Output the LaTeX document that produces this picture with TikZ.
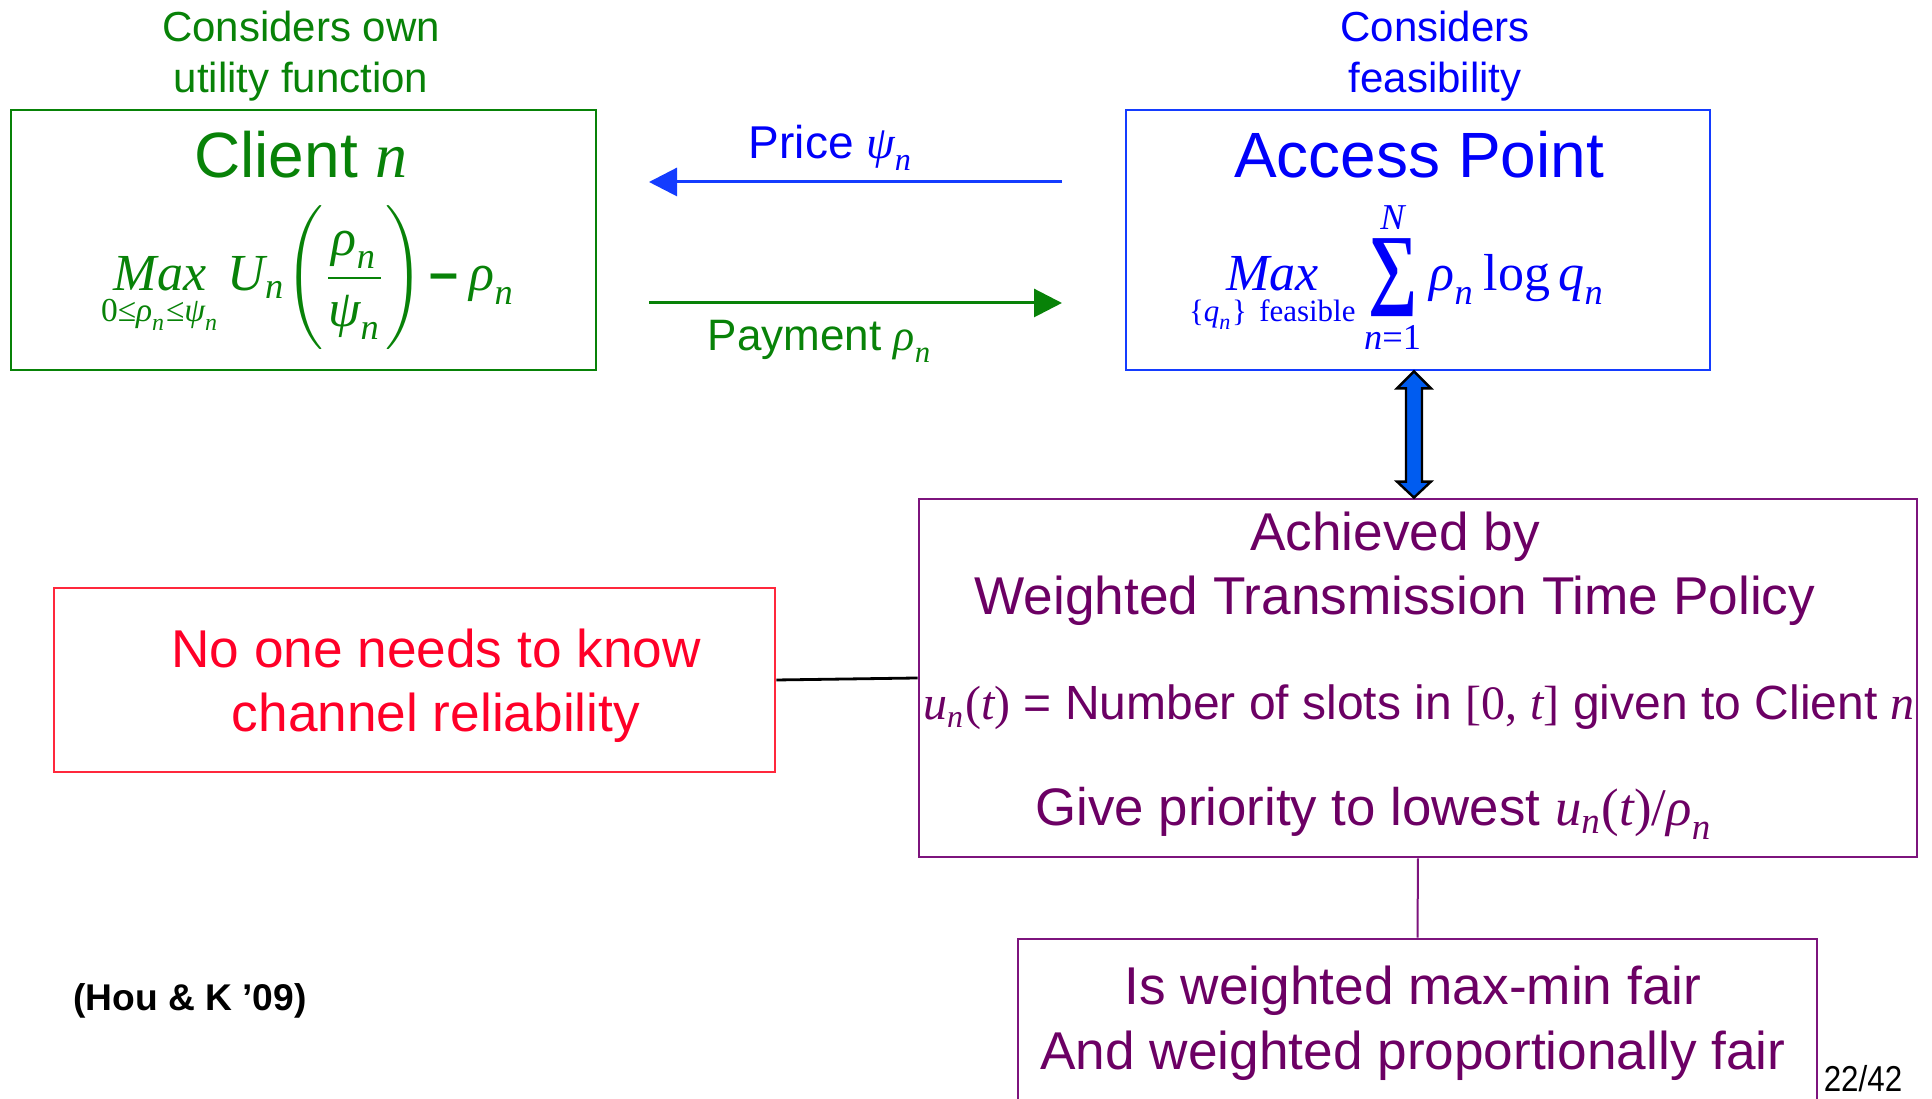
\documentclass[tikz,border=0pt]{standalone}
\usepackage{fix-cm}
\usepackage{amsmath}
\usepackage{fontspec}
\setmainfont{Liberation Sans}
\newfontfamily\tms{Liberation Serif}
\usetikzlibrary{fit,calc,arrows.meta}

% Times-like italic and upright pieces inside formulas
\newcommand\mi[1]{\text{\tms\itshape #1}}
\newcommand\mup[1]{\text{\tms\upshape #1}}
\newcommand\fs[1]{\fontsize{#1}{#1}\selectfont}
% heavy summation sign, centred on the math axis
\newcommand\bigsum{\mathop{\vcenter{\hbox{\resizebox*{12.3pt}{19.5pt}{\tms\bfseries ∑}}}}}

\definecolor{gtxt}{RGB}{8,130,8}
\definecolor{btxt}{RGB}{0,0,250}
\definecolor{bline}{RGB}{20,60,255}
\definecolor{ptxt}{RGB}{108,0,100}
\definecolor{pline}{RGB}{125,20,125}
\definecolor{rtxt}{RGB}{255,0,40}
\definecolor{rline}{RGB}{255,40,60}
\definecolor{afill}{RGB}{0,92,240}

\begin{document}
\begin{tikzpicture}[x=0.25pt,y=-0.25pt,
  box/.style={draw, line width=0.7pt, inner sep=0pt},
  lbl/.style={inner sep=0pt, anchor=base},
  flow/.style={line width=0.75pt, -{Triangle[length=7pt,width=7pt]}},
]
\useasboundingbox (0,0) rectangle (1932,1099);

% ---------- client side ----------
\node[lbl, text=gtxt, font=\fs{10.5}] (cown1) at (301,42) {Considers own};
\node[lbl, text=gtxt, font=\fs{10.5}] (cown2) at (301,93) {utility function};
\node[box, draw=gtxt, fit={(11,110)(596,370)}] (client) {};
\node[lbl, text=gtxt, font=\fs{16}] (ctitle) at (301,178) {Client \mi{n}};
\node[lbl, text=gtxt, font=\fs{13}] (cform) at (308,291)
  {$\displaystyle \mathop{\mi{Max}}\limits_{\scalebox{0.92}{$\scriptstyle\mup{0}\mup{≤}\mi{ρ}_{\mi{n}}\mup{≤}\mi{ψ}_{\mi{n}}$}}
   \mi{U}_{\mi{n}}\Bigg(\frac{\mi{ρ}_{\mi{n}}}{\mi{ψ}_{\mi{n}}}\Bigg)\mkern2mu\text{\bfseries –}\mkern4mu\mi{ρ}_{\mi{n}}$};

% ---------- access point ----------
\node[lbl, text=btxt, font=\fs{10.5}] (feas1) at (1435,42) {Considers};
\node[lbl, text=btxt, font=\fs{10.5}] (feas2) at (1435,93) {feasibility};
\node[box, draw=bline, fit={(1126,110)(1710,370)}] (ap) {};
\node[lbl, text=btxt, font=\fs{16}] (aptitle) at (1419,178) {Access Point};
\node[lbl, text=btxt, font=\fs{13}] (apform) at (1397,291)
  {$\displaystyle \mathop{\mi{Max}}\limits_{\scalebox{0.85}{$\scriptstyle\mup{\{}\mi{q}_{\mi{n}}\mup{\}}\ \mup{feasible}$}}
   \bigsum\limits_{\mi{n}\mup{=1}}^{\mi{N}}\mi{ρ}_{\mi{n}}\,\mup{log}\,\mi{q}_{\mi{n}}$};

% ---------- price / payment exchange ----------
\coordinate (priceR) at (1062,182);
\coordinate (priceL) at (649,182);
\coordinate (payL) at (649,303);
\coordinate (payR) at (1062,303);
\draw[flow, draw=bline, fill=bline] (priceR) -- (priceL);
\draw[flow, draw=gtxt, fill=gtxt] (payL) -- (payR);
\node[lbl, anchor=base west, text=btxt, font=\fs{11.5}] (price) at (748,159) {Price $\mi{ψ}_{\mi{n}}$};
\node[lbl, anchor=base west, text=gtxt, font=\fs{11}] (pay) at (707,351) {Payment $\mi{ρ}_{\mi{n}}$};

% ---------- policy box ----------
\node[box, draw=pline, fit={(919,499)(1917,857)}] (policy) {};
\node[lbl, text=ptxt, font=\fs{13.3}] (ach1) at (1395,551) {Achieved by};
\node[lbl, text=ptxt, font=\fs{13.3}] (ach2) at (1395,615) {Weighted Transmission Time Policy};
\node[lbl, text=ptxt, font=\fs{12}] (udef) at (1419,720)
  {$\mi{u}_{\mi{n}}\mup{(}\mi{t}\mup{)}$ = Number of slots in \mup{[0,} \mi{t}\mup{]} given to Client \mi{n}};
\node[lbl, text=ptxt, font=\fs{13.2}] (prio) at (1374,826)
  {Give priority to lowest $\mi{u}_{\mi{n}}\mup{(}\mi{t}\mup{)/}\mi{ρ}_{\mi{n}}$};

% double-headed block arrow between access point and policy
\coordinate (dT) at ([xshift=-1pt]ap.south);
\coordinate (dB) at ([xshift=-1pt]policy.north);
\draw[line width=0.6pt, fill=afill, line join=miter]
  (dT) -- ($(dT)+(17,17)$) -- ($(dT)+(8,17)$) -- ($(dB)+(8,-16)$) -- ($(dB)+(17,-16)$)
  -- (dB) -- ($(dB)+(-17,-16)$) -- ($(dB)+(-8,-16)$) -- ($(dT)+(-8,17)$) -- ($(dT)+(-17,17)$) -- cycle;

% ---------- fairness box ----------
\node[box, draw=pline, fit={(1018,939)(1817,1130)}] (fair) {};
\node[lbl, text=ptxt, font=\fs{13.3}] (fair1) at (1413,1005) {Is weighted max-min fair};
\node[lbl, text=ptxt, font=\fs{13.3}] (fair2) at (1413,1070) {And weighted proportionally fair};
\draw[pline, line width=0.5pt] (policy.south) -- (fair.north);

% ---------- channel reliability box ----------
\node[box, draw=rline, fit={(54,588)(775,772)}] (rel) {};
\node[lbl, text=rtxt, font=\fs{13.3}] (rel1) at (436,668) {No one needs to know};
\node[lbl, text=rtxt, font=\fs{13.3}] (rel2) at (436,732) {channel reliability};
\draw[black, line width=0.7pt] (rel.east) -- (policy.west);

% ---------- footer ----------
\node[lbl, font=\bfseries\fs{9.3}] (cite) at (190,1011) {(Hou \& K ’09)};
\node[lbl, font=\fs{9}] (page) at (1863,1092) {\scalebox{0.87}[1]{22/42}};
\end{tikzpicture}
\end{document}
